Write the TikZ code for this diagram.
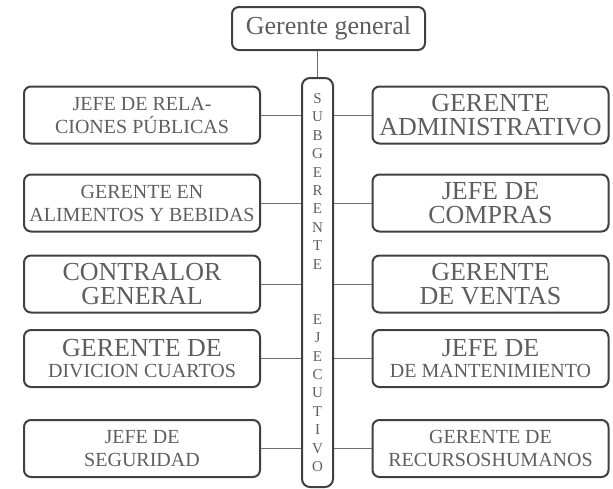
\documentclass[tikz,border=0pt]{standalone}
\usepackage{fontspec}
\setmainfont{Liberation Serif}
\newfontfamily\timesf{Liberation Serif}
\usepackage{tikz}

\definecolor{boxline}{HTML}{404040}
\definecolor{txtgray}{HTML}{5E5E5E}
\definecolor{linkgray}{HTML}{6E6E6E}

\newcommand{\bigtxt}{\timesf\fontsize{26}{24}\selectfont}
\newcommand{\smalltxt}{\timesf\fontsize{20}{23}\selectfont}

\begin{document}
\begin{tikzpicture}[x=1pt, y=-1pt,
    puesto/.style={draw=boxline, line width=2pt, rounded corners=7pt, text=txtgray,
        align=center, minimum width=236pt, minimum height=57pt, inner sep=0pt},
    link/.style={draw=linkgray, line width=1pt}]
    \useasboundingbox (0, 0) rectangle (613, 488);

    \node[puesto, minimum width=193pt, minimum height=43pt, font=\bigtxt] at (328.5, 28.5) (gg) {Gerente general};

    \node[puesto, minimum width=31pt, minimum height=409pt, rounded corners=8pt,
        font=\timesf\fontsize{15}{18.4}\selectfont] at (317.5, 282.5) (sub)
        {S\\U\\B\\G\\E\\R\\E\\N\\T\\E\\~\\~\\E\\J\\E\\C\\U\\T\\I\\V\\O};

    % lado izquierdo
    \node[puesto, font=\smalltxt] at (142, 115) (l1) {JEFE DE RELA-\\CIONES PÚBLICAS};
    \node[puesto, font=\smalltxt] at (142, 203) (l2) {GERENTE EN\\ALIMENTOS Y BEBIDAS};
    \node[puesto, font=\bigtxt] at (142, 284) (l3) {CONTRALOR\\GENERAL};
    \node[puesto, font=\bigtxt] at (142, 358.5) (l4) {GERENTE DE\\[-3pt]{\smalltxt DIVICION CUARTOS}};
    \node[puesto, font=\smalltxt] at (142, 448.5) (l5) {JEFE DE\\SEGURIDAD};

    % lado derecho
    \node[puesto, font=\bigtxt] at (490.5, 115) (r1) {GERENTE\\ADMINISTRATIVO};
    \node[puesto, font=\bigtxt] at (490.5, 203) (r2) {JEFE DE\\COMPRAS};
    \node[puesto, font=\bigtxt] at (490.5, 284) (r3) {GERENTE\\DE VENTAS};
    \node[puesto, font=\bigtxt] at (490.5, 358.5) (r4) {JEFE DE\\[-3pt]{\smalltxt DE MANTENIMIENTO}};
    \node[puesto, font=\smalltxt] at (490.5, 448.5) (r5) {GERENTE DE\\RECURSOSHUMANOS};

    \draw[link] (gg.south -| sub.north) -- (sub.north);

    \draw[link] (l1.east) -- (l1.east -| sub.west);
    \draw[link] (l2.east) -- (l2.east -| sub.west);
    \draw[link] (l3.east) -- (l3.east -| sub.west);
    \draw[link] (l4.east) -- (l4.east -| sub.west);
    \draw[link] (l5.east) -- (l5.east -| sub.west);

    \draw[link] (r1.west) -- (r1.west -| sub.east);
    \draw[link] (r2.west) -- (r2.west -| sub.east);
    \draw[link] (r3.west) -- (r3.west -| sub.east);
    \draw[link] (r4.west) -- (r4.west -| sub.east);
    \draw[link] (r5.west) -- (r5.west -| sub.east);
\end{tikzpicture}
\end{document}
